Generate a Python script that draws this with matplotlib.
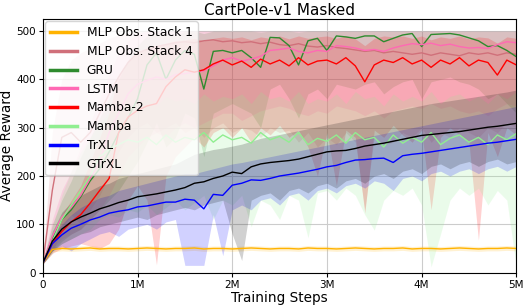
import numpy as np
import matplotlib
matplotlib.use("Agg")
import matplotlib.pyplot as plt

# training steps, one reading every 0.1M
steps = np.linspace(0, 5e6, 51)

# mean return, lower / upper edge of the shaded band
mlp1_mean = [20, 48, 50, 49, 50, 51, 49, 50, 50, 49, 50, 51, 50, 49, 50, 50, 51, 49, 50, 50,
             49, 50, 51, 50, 49, 50, 50, 49, 51, 50, 50, 49, 50, 51, 50, 49, 50, 50, 51, 49,
             50, 50, 49, 50, 51, 50, 49, 50, 50, 51, 50]
mlp1_lo = [18, 43, 45, 44, 45, 46, 44, 45, 45, 44, 45, 46, 45, 44, 45, 45, 46, 44, 45, 45,
           44, 45, 46, 45, 44, 45, 45, 44, 46, 45, 45, 44, 45, 46, 45, 44, 45, 45, 46, 44,
           45, 45, 44, 45, 46, 45, 44, 45, 45, 46, 45]
mlp1_hi = [22, 53, 55, 54, 55, 56, 54, 55, 55, 54, 55, 56, 55, 54, 55, 55, 56, 54, 55, 55,
           54, 55, 56, 55, 54, 55, 55, 54, 56, 55, 55, 54, 55, 56, 55, 54, 55, 55, 56, 54,
           55, 55, 54, 55, 56, 55, 54, 55, 55, 56, 55]

mlp4_mean = [20, 170, 280, 290, 270, 290, 330, 370, 405, 435, 455, 462, 468, 472, 476, 478, 476, 480, 482, 478,
             480, 476, 478, 474, 477, 472, 470, 474, 469, 467, 470, 466, 464, 461, 458, 460, 455, 458, 455, 452,
             455, 450, 455, 452, 449, 455, 452, 455, 450, 455, 452]
mlp4_lo = [18, 40, 90, 120, 100, 130, 160, 200, 250, 280, 300, 310, 290, 300, 310, 290, 300, 280, 300, 310,
           290, 300, 295, 280, 300, 290, 295, 270, 290, 260, 280, 265, 290, 270, 130, 280, 265, 270, 290, 280,
           300, 270, 290, 280, 300, 290, 280, 300, 290, 310, 300]
mlp4_hi = [22, 290, 400, 440, 455, 465, 475, 485, 492, 496, 500, 500, 500, 500, 500, 500, 500, 500, 500, 500,
           500, 500, 500, 500, 500, 500, 500, 500, 500, 500, 500, 500, 500, 500, 500, 500, 500, 500, 500, 500,
           500, 500, 500, 500, 500, 500, 500, 500, 500, 500, 500]

gru_mean = [20, 70, 110, 130, 157, 190, 215, 250, 289, 320, 360, 430, 455, 400, 440, 460, 452, 380, 458, 460,
            455, 460, 445, 425, 487, 486, 470, 430, 480, 485, 460, 490, 488, 485, 490, 490, 478, 485, 492, 495,
            468, 493, 494, 495, 492, 486, 480, 468, 470, 460, 447]
gru_lo = [18, 45, 65, 80, 90, 110, 130, 150, 170, 200, 230, 270, 310, 260, 280, 330, 320, 240, 330, 340,
          350, 340, 330, 300, 380, 390, 360, 320, 370, 380, 360, 390, 385, 380, 390, 395, 370, 385, 395, 400,
          360, 395, 400, 405, 395, 390, 380, 360, 370, 350, 330]
gru_hi = [22, 100, 150, 190, 240, 280, 320, 360, 400, 440, 470, 490, 498, 495, 490, 500, 500, 495, 500, 500,
          500, 500, 500, 498, 500, 500, 500, 498, 500, 500, 500, 500, 500, 500, 500, 500, 500, 500, 500, 500,
          500, 500, 500, 500, 500, 500, 500, 500, 500, 500, 500]

lstm_mean = [20, 75, 115, 135, 160, 195, 230, 290, 330, 370, 390, 398, 405, 400, 410, 412, 415, 418, 428, 440,
             445, 438, 442, 448, 460, 462, 465, 458, 455, 460, 458, 470, 468, 465, 460, 462, 458, 465, 470, 474,
             472, 475, 470, 473, 468, 465, 466, 464, 472, 478, 476]
lstm_lo = [18, 50, 70, 80, 90, 110, 130, 160, 200, 240, 260, 280, 290, 280, 300, 310, 300, 310, 320, 330,
           330, 315, 325, 335, 340, 345, 340, 330, 325, 335, 330, 345, 340, 335, 325, 335, 320, 335, 340, 345,
           340, 350, 340, 345, 335, 330, 335, 325, 340, 350, 345]
lstm_hi = [22, 110, 170, 210, 260, 310, 360, 410, 455, 480, 495, 500, 500, 500, 500, 500, 500, 500, 500, 500,
           500, 500, 500, 500, 500, 500, 500, 500, 500, 500, 500, 500, 500, 500, 500, 500, 500, 500, 500, 500,
           500, 500, 500, 500, 500, 500, 500, 500, 500, 500, 500]

mamba2_mean = [20, 60, 85, 105, 120, 144, 170, 195, 290, 322, 336, 345, 350, 385, 405, 420, 415, 420, 432, 440,
               430, 438, 425, 442, 432, 440, 428, 445, 430, 438, 440, 432, 445, 428, 395, 430, 440, 435, 445, 432,
               440, 425, 440, 432, 445, 428, 440, 435, 409, 440, 430]
mamba2_lo = [18, 40, 50, 55, 60, 55, 50, 60, 90, 150, 180, 150, 16, 200, 240, 260, 280, 260, 290, 300,
             280, 300, 270, 300, 285, 305, 280, 295, 260, 200, 290, 180, 295, 280, 123, 295, 280, 305, 285, 270,
             295, 130, 280, 300, 285, 270, 67, 290, 240, 300, 285]
mamba2_hi = [22, 80, 120, 150, 180, 230, 280, 330, 410, 440, 455, 465, 470, 475, 480, 482, 485, 480, 485, 488,
             485, 488, 482, 488, 485, 490, 484, 490, 485, 488, 490, 485, 490, 484, 470, 485, 490, 488, 490, 485,
             490, 482, 488, 485, 490, 484, 488, 486, 475, 488, 485]

mamba_mean = [20, 65, 110, 140, 170, 200, 240, 255, 265, 275, 270, 280, 265, 285, 270, 280, 275, 290, 270, 285,
              275, 280, 268, 290, 275, 282, 270, 290, 265, 278, 272, 285, 268, 290, 275, 280, 260, 285, 268, 280,
              270, 290, 265, 278, 285, 270, 280, 265, 285, 275, 288]
mamba_lo = [18, 40, 60, 70, 80, 90, 110, 120, 115, 130, 125, 140, 120, 135, 150, 130, 145, 160, 110, 150,
            140, 160, 95, 150, 140, 110, 160, 150, 72, 165, 170, 150, 175, 160, 120, 88, 150, 170, 160, 175,
            140, 12, 80, 150, 175, 160, 175, 140, 170, 150, 12]
mamba_hi = [22, 90, 160, 210, 250, 280, 310, 330, 340, 345, 350, 360, 345, 365, 355, 360, 350, 370, 355, 365,
            360, 370, 350, 375, 360, 365, 355, 375, 350, 360, 355, 370, 350, 375, 360, 365, 345, 370, 355, 365,
            355, 375, 350, 365, 370, 355, 365, 350, 370, 360, 375]

trxl_mean = [20, 60, 78, 92, 100, 109, 115, 123, 127, 130, 136, 138, 142, 146, 146, 152, 150, 132, 162, 160,
             181, 185, 192, 191, 195, 200, 203, 206, 210, 214, 219, 222, 228, 233, 234, 236, 237, 228, 242, 245,
             247, 250, 253, 256, 259, 262, 265, 268, 270, 273, 276]
trxl_lo = [18, 45, 55, 45, 60, 70, 80, 85, 75, 90, 95, 100, 90, 105, 110, 15, 15, 15, 120, 35,
           130, 140, 130, 150, 155, 140, 160, 165, 150, 170, 175, 165, 180, 185, 175, 190, 185, 170, 195, 200,
           190, 205, 210, 200, 210, 215, 205, 215, 220, 210, 220]
trxl_hi = [22, 75, 100, 120, 135, 145, 155, 160, 170, 175, 180, 185, 190, 195, 200, 205, 205, 210, 215, 220,
           225, 228, 232, 236, 240, 244, 248, 252, 256, 260, 264, 268, 272, 276, 280, 284, 288, 292, 296, 300,
           304, 308, 312, 316, 320, 324, 328, 332, 336, 340, 344]

gtrxl_mean = [20, 65, 90, 105, 115, 123, 132, 138, 145, 150, 157, 160, 163, 167, 171, 176, 185, 188, 195, 200,
              208, 205, 219, 225, 228, 230, 232, 235, 240, 245, 250, 252, 253, 257, 262, 265, 268, 272, 276, 280,
              284, 286, 288, 290, 292, 295, 298, 301, 303, 306, 309]
gtrxl_lo = [18, 45, 60, 70, 80, 85, 95, 100, 105, 110, 115, 110, 120, 125, 130, 135, 130, 140, 145, 150,
            80, 25, 150, 160, 165, 150, 170, 175, 165, 180, 185, 175, 190, 195, 185, 200, 205, 195, 210, 215,
            205, 220, 225, 215, 225, 230, 220, 230, 235, 225, 230]
gtrxl_hi = [22, 85, 125, 145, 160, 170, 180, 185, 195, 200, 205, 210, 215, 220, 225, 235, 245, 250, 255, 258,
            262, 266, 272, 278, 282, 286, 290, 294, 298, 302, 306, 310, 314, 318, 322, 326, 330, 334, 338, 342,
            346, 350, 353, 356, 359, 362, 365, 368, 371, 374, 378]

runs = [
    ("MLP Obs. Stack 1", "#FFB300", mlp1_mean, mlp1_lo, mlp1_hi),
    ("MLP Obs. Stack 4", "#D0707A", mlp4_mean, mlp4_lo, mlp4_hi),
    ("GRU", "#2E8B2E", gru_mean, gru_lo, gru_hi),
    ("LSTM", "#FF69B4", lstm_mean, lstm_lo, lstm_hi),
    ("Mamba-2", "#FF0000", mamba2_mean, mamba2_lo, mamba2_hi),
    ("Mamba", "#90EE90", mamba_mean, mamba_lo, mamba_hi),
    ("TrXL", "#0000FF", trxl_mean, trxl_lo, trxl_hi),
    ("GTrXL", "#000000", gtrxl_mean, gtrxl_lo, gtrxl_hi),
]

fig = plt.figure(figsize=(5.29, 3.07), dpi=100)
ax = fig.add_axes([0.081, 0.112, 0.895, 0.826])

for name, col, mean, lo, hi in runs:
    ax.fill_between(steps, lo, hi, color=col, alpha=0.18, linewidth=0)
    ax.plot(steps, mean, color=col, lw=1.0, label=name)

ax.set_xlim(0, 5e6)
ax.set_ylim(0, 525)
ax.set_xticks([0, 1e6, 2e6, 3e6, 4e6, 5e6])
ax.set_xticklabels(["0", "1M", "2M", "3M", "4M", "5M"])
ax.set_yticks([0, 100, 200, 300, 400, 500])
ax.tick_params(labelsize=7.5, length=3, pad=2)
ax.grid(True, color="#cccccc", lw=0.8)
ax.set_axisbelow(True)

ax.set_title("CartPole-v1 Masked", fontsize=11, pad=3)
ax.set_xlabel("Training Steps", fontsize=9.8, labelpad=1)
ax.set_ylabel("Average Reward", fontsize=9.8, labelpad=2)

leg = ax.legend(loc="upper left", fontsize=8.8, labelspacing=0.47, handlelength=2.2,
                borderaxespad=0.2, framealpha=0.8)
for ln in leg.get_lines():
    ln.set_linewidth(2.5)

fig.savefig("out.png", dpi=100)
